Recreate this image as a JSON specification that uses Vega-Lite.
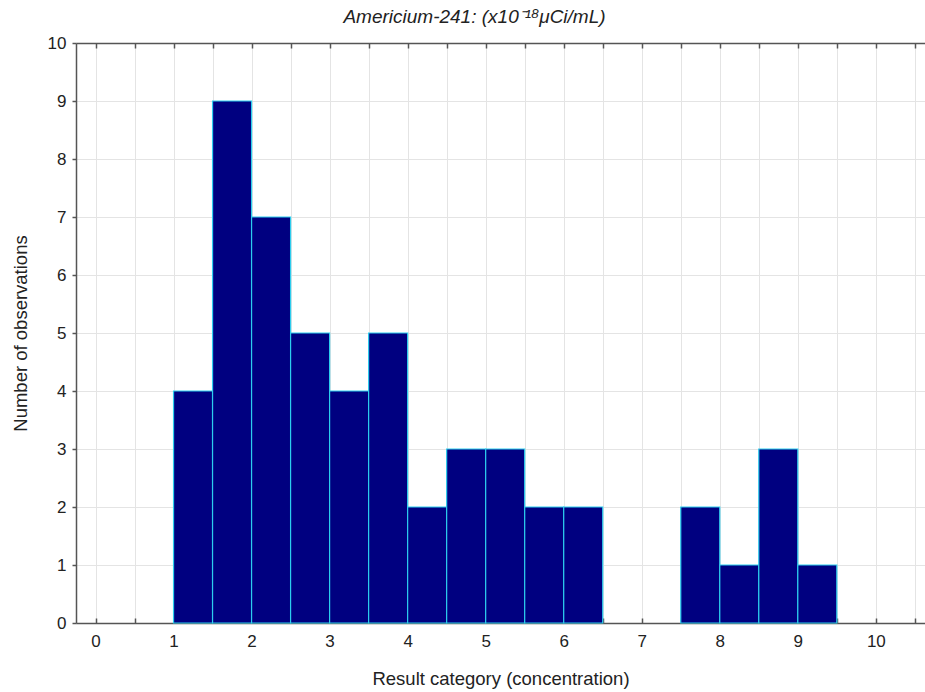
{
  "$schema": "https://vega.github.io/schema/vega-lite/v6.json",
  "width": 849,
  "height": 580,
  "autosize": "none",
  "padding": {"left": 76, "top": 43, "right": 0, "bottom": 69},
  "background": "white",
  "title": {
    "text": "Americium-241: (x10⁻¹⁸μCi/mL)",
    "font": "Liberation Sans",
    "fontSize": 19,
    "fontStyle": "italic",
    "fontWeight": "normal",
    "color": "#222",
    "offset": 7,
    "dx": -26
  },
  "config": {
    "view": {"stroke": null},
    "axis": {
      "labelFont": "Liberation Sans",
      "titleFont": "Liberation Sans",
      "labelFontSize": 17,
      "titleFontSize": 18.5,
      "titleFontWeight": "normal",
      "labelColor": "#222",
      "titleColor": "#222",
      "domainColor": "#555",
      "domainWidth": 1.5,
      "tickColor": "#555",
      "tickWidth": 1.5,
      "gridColor": "#e4e4e4",
      "gridWidth": 1
    }
  },
  "data": {
    "values": [
      {"start": 1.0, "end": 1.5, "count": 4},
      {"start": 1.5, "end": 2.0, "count": 9},
      {"start": 2.0, "end": 2.5, "count": 7},
      {"start": 2.5, "end": 3.0, "count": 5},
      {"start": 3.0, "end": 3.5, "count": 4},
      {"start": 3.5, "end": 4.0, "count": 5},
      {"start": 4.0, "end": 4.5, "count": 2},
      {"start": 4.5, "end": 5.0, "count": 3},
      {"start": 5.0, "end": 5.5, "count": 3},
      {"start": 5.5, "end": 6.0, "count": 2},
      {"start": 6.0, "end": 6.5, "count": 2},
      {"start": 7.5, "end": 8.0, "count": 2},
      {"start": 8.0, "end": 8.5, "count": 1},
      {"start": 8.5, "end": 9.0, "count": 3},
      {"start": 9.0, "end": 9.5, "count": 1}
    ]
  },
  "resolve": {"axis": {"x": "independent"}},
  "layer": [
    {
      "mark": {"type": "rect", "fill": "#000080", "stroke": "#2ccdee", "strokeWidth": 1.2},
      "encoding": {
        "x": {
          "field": "start",
          "type": "quantitative",
          "scale": {"domain": [-0.25, 10.63], "nice": false, "zero": false},
          "axis": {
            "title": "Result category (concentration)",
            "values": [0, 0.5, 1, 1.5, 2, 2.5, 3, 3.5, 4, 4.5, 5, 5.5, 6, 6.5, 7, 7.5, 8, 8.5, 9, 9.5, 10, 10.5],
            "labelExpr": "datum.value % 1 === 0 ? format(datum.value, 'd') : ''",
            "tickSize": -5,
            "labelPadding": 15,
            "titlePadding": 20,
            "grid": true
          }
        },
        "x2": {"field": "end"},
        "y": {
          "field": "count",
          "type": "quantitative",
          "scale": {"domain": [0, 10], "nice": false},
          "axis": {
            "title": "Number of observations",
            "values": [0, 1, 2, 3, 4, 5, 6, 7, 8, 9, 10],
            "format": "d",
            "tickSize": 4,
            "labelPadding": 6,
            "titlePadding": 17,
            "grid": true
          }
        },
        "y2": {"datum": 0}
      }
    },
    {
      "mark": {"type": "rule", "opacity": 0},
      "encoding": {
        "x": {
          "field": "start",
          "type": "quantitative",
          "scale": {"domain": [-0.25, 10.63], "nice": false, "zero": false},
          "axis": {
            "orient": "top",
            "title": null,
            "values": [0, 0.5, 1, 1.5, 2, 2.5, 3, 3.5, 4, 4.5, 5, 5.5, 6, 6.5, 7, 7.5, 8, 8.5, 9, 9.5, 10, 10.5],
            "labels": false,
            "tickSize": -5,
            "grid": false
          }
        }
      }
    }
  ]
}
